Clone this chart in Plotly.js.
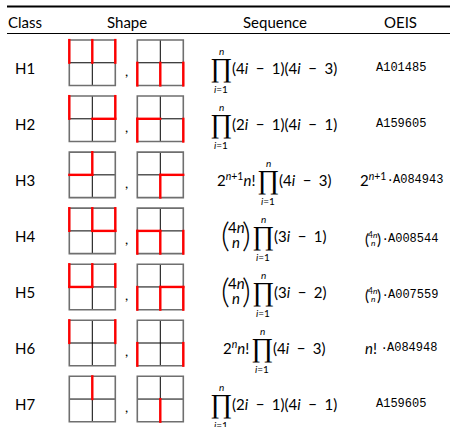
<!DOCTYPE html>
<html><head><meta charset="utf-8">
<script src="https://cdn.plot.ly/plotly-3.0.1.min.js"></script>
<style>html,body{margin:0;padding:0;background:#fff}</style>
</head><body><div id="chart" style="width:450px;height:427px"></div>
<script>
// ---------------- data ----------------
const headers = ['Class', 'Shape', 'Sequence', 'OEIS'];
const classes = ['H1', 'H2', 'H3', 'H4', 'H5', 'H6', 'H7'];
// red edges of the two 2x2 shapes, in cell units [x0, y0, x1, y1] (y grows downward)
const shapeLeft = [
  [[0,0,0,1],[1,0,1,1],[2,0,2,1]],
  [[0,0,0,1],[2,0,2,1],[1,1,2,1]],
  [[1,0,1,1],[0,1,1,1]],
  [[0,0,0,1],[1,0,1,1],[2,0,2,1],[1,1,2,1]],
  [[0,0,0,1],[1,0,1,1],[2,0,2,1],[0,1,1,1]],
  [[0,0,0,1],[2,0,2,1]],
  [[1,0,1,1]]
];
const shapeRight = [
  [[0,1,0,2],[1,1,1,2],[2,1,2,2]],
  [[0,1,1,1],[0,1,0,2],[2,1,2,2]],
  [[1,1,2,1],[1,1,1,2]],
  [[0,1,1,1],[0,1,0,2],[1,1,1,2],[2,1,2,2]],
  [[1,1,2,1],[0,1,0,2],[1,1,1,2],[2,1,2,2]],
  [[0,1,0,2],[2,1,2,2]],
  [[1,1,1,2]]
];
const seqBinom   = [false, false, false, true, true, false, false];
const seqPrefix  = ['', '', '2^{n+1}n!', '', '', '2^{n}n!', ''];
const seqFactors = ['(4i − 1)(4i − 3)', '(2i − 1)(4i − 1)', '(4i − 3)', '(3i − 1)', '(3i − 2)', '(4i − 3)', '(2i − 1)(4i − 1)'];
const oeisBinom  = [false, false, false, true, true, false, false];
const oeisPrefix = ['', '', '2^{n+1}·', '·', '·', 'n! ·', ''];
const oeisIds    = ['A101485', 'A159605', 'A084943', 'A008544', 'A007559', 'A084948', 'A159605'];

// ---------------- layout helpers ----------------
const TXT = 'Lato', MONO = 'Liberation Mono', PROD = 'Liberation Serif', DOTF = 'DejaVu Sans';
const TS = 15;
const rowY = r => 67.6 + 56.05 * r;
const ctx = document.createElement('canvas').getContext('2d');

function mathHtml(s) {
  return s.replace(/([in])/g, '<i>$1</i>').replace(/\^\{([^}]*)\}/g, '<sup>$1</sup>');
}
function measure(html, size, family) {
  let w = 0, it = false, sup = false;
  html.split(/(<\/?(?:i|sup)>)/).forEach(tok => {
    if (tok === '<i>') it = true;
    else if (tok === '</i>') it = false;
    else if (tok === '<sup>') sup = true;
    else if (tok === '</sup>') sup = false;
    else if (tok) {
      ctx.font = (it ? 'italic ' : '') + (sup ? size * 0.7 : size) + 'px "' + family + '"';
      w += ctx.measureText(tok).width;
    }
  });
  return w;
}

const shapes = [];
const annotations = [];
function ann(x, y, text, opts) {
  opts = opts || {};
  annotations.push({
    x: x, y: y, xref: 'x', yref: 'y', text: text, showarrow: false,
    xanchor: opts.xa || 'center', yanchor: opts.ya || 'middle',
    borderpad: 0, borderwidth: 0,
    font: {family: opts.family || TXT, size: opts.size || TS, color: '#000', weight: opts.weight || 400}
  });
}
function line(x0, y0, x1, y1, color, width) {
  shapes.push({type: 'line', xref: 'x', yref: 'y', x0: x0, y0: y0, x1: x1, y1: y1,
    line: {color: color, width: width}});
}

// table rules
line(7, 6.5, 450, 6.5, '#000', 2);
line(7, 33.5, 450, 33.5, '#000', 1);

// headers
const headX = [8, 126.5, 274.5, 400.5];
headers.forEach((h, k) => ann(headX[k], 21.5, h, {xa: k === 0 ? 'left' : 'center'}));

// rows
const GW = 46, GH = 45.5;
const gridX = [69.3, 137.3];
classes.forEach((c, r) => {
  const yc = rowY(r);
  ann(24.5, yc, c);
  ann(126.5, yc + 3, ',', {size: 14});
  [shapeLeft[r], shapeRight[r]].forEach((segs, s) => {
    const gx = gridX[s], gy = yc - 27.6;
    const cw = GW / 2, ch = GH / 2;
    line(gx + cw, gy, gx + cw, gy + GH, '#000', 1);
    line(gx, gy + ch, gx + GW, gy + ch, '#000', 1);
    shapes.push({type: 'rect', xref: 'x', yref: 'y', x0: gx, y0: gy, x1: gx + GW, y1: gy + GH,
      line: {color: '#6f6f6f', width: 1.6}});
    segs.forEach(sg => {
      const horiz = sg[1] === sg[3];
      const ext = 1.1;
      line(gx + sg[0] * cw - (horiz ? ext : 0), gy + sg[1] * ch - (horiz ? 0 : ext),
           gx + sg[2] * cw + (horiz ? ext : 0), gy + sg[3] * ch + (horiz ? 0 : ext), '#ff0000', 2.4);
    });
  });
});

// sequence column
const SEQ_CX = 274.5, PW = 20, BW = 28;
function bigBinom(x, yc) {
  ann(x + 3.5, yc - 2, '(', {size: 34, weight: 300});
  ann(x + BW - 3.5, yc - 2, ')', {size: 34, weight: 300});
  ann(x + BW / 2, yc - 8.5, mathHtml('4n'));
  ann(x + BW / 2, yc + 6, mathHtml('n'));
}
seqFactors.forEach((f, r) => {
  const yc = rowY(r);
  const preHtml = mathHtml(seqPrefix[r]);
  const preW = seqBinom[r] ? BW : (preHtml ? measure(preHtml, TS, TXT) : 0);
  const facHtml = mathHtml(f.replace(/ /g, '\u2002'));
  const facW = measure(facHtml, TS, TXT);
  const gapPre = preW ? 3 : 0;
  const total = preW + gapPre + PW + 1 + facW;
  let x = SEQ_CX - total / 2;
  if (seqBinom[r]) bigBinom(x, yc);
  else if (preHtml) ann(x, yc, preHtml, {xa: 'left'});
  x += preW + gapPre;
  ann(x + PW / 2, yc, '∏', {family: PROD, size: 27});
  ann(x + PW / 2, yc - 16.5, mathHtml('n'), {size: 10});
  ann(x + PW / 2, yc + 21.5, mathHtml('i=1'), {size: 10});
  x += PW + 1;
  ann(x, yc, facHtml, {xa: 'left'});
});

// OEIS column
const OE_CX = 401.5, SBW = 17, MS = 12, DOTW = 6;
oeisIds.forEach((id, r) => {
  const yc = rowY(r) + (oeisBinom[r] ? 3 : 0);
  const parts = oeisPrefix[r].split('·');
  const hasDot = parts.length > 1;
  const preHtml = mathHtml(parts[0]);
  const preTxtW = preHtml.trim() ? measure(preHtml, TS, TXT) : 0;
  const preW = (oeisBinom[r] ? SBW : 0) + preTxtW + (hasDot ? DOTW : 0);
  const idW = measure(id, MS, MONO);
  let x = OE_CX - (preW + idW) / 2;
  if (oeisBinom[r]) {
    ann(x + 2.5, yc, '(', {size: 15});
    ann(x + SBW - 2.5, yc, ')', {size: 15});
    ann(x + SBW / 2, yc - 3.5, mathHtml('4n'), {size: 8.5});
    ann(x + SBW / 2, yc + 4, mathHtml('n'), {size: 8.5});
    x += SBW;
  }
  if (preTxtW) {
    ann(x, yc, preHtml, {xa: 'left'});
    x += preTxtW;
  }
  if (hasDot) {
    ann(x + DOTW / 2, yc + 0.5, '⋅', {family: DOTF, size: 14});
    x += DOTW;
  }
  ann(x, yc + 0.5, id, {xa: 'left', family: MONO, size: MS});
});

const layout = {
  width: 450, height: 427,
  margin: {l: 0, r: 0, t: 0, b: 0},
  paper_bgcolor: '#fff', plot_bgcolor: '#fff',
  xaxis: {range: [0, 450], visible: false, fixedrange: true},
  yaxis: {range: [427, 0], visible: false, fixedrange: true},
  showlegend: false,
  shapes: shapes,
  annotations: annotations
};
Plotly.newPlot('chart', [{x: [], y: [], type: 'scatter', hoverinfo: 'skip'}], layout,
  {staticPlot: true, displayModeBar: false});
</script>
</body></html>
